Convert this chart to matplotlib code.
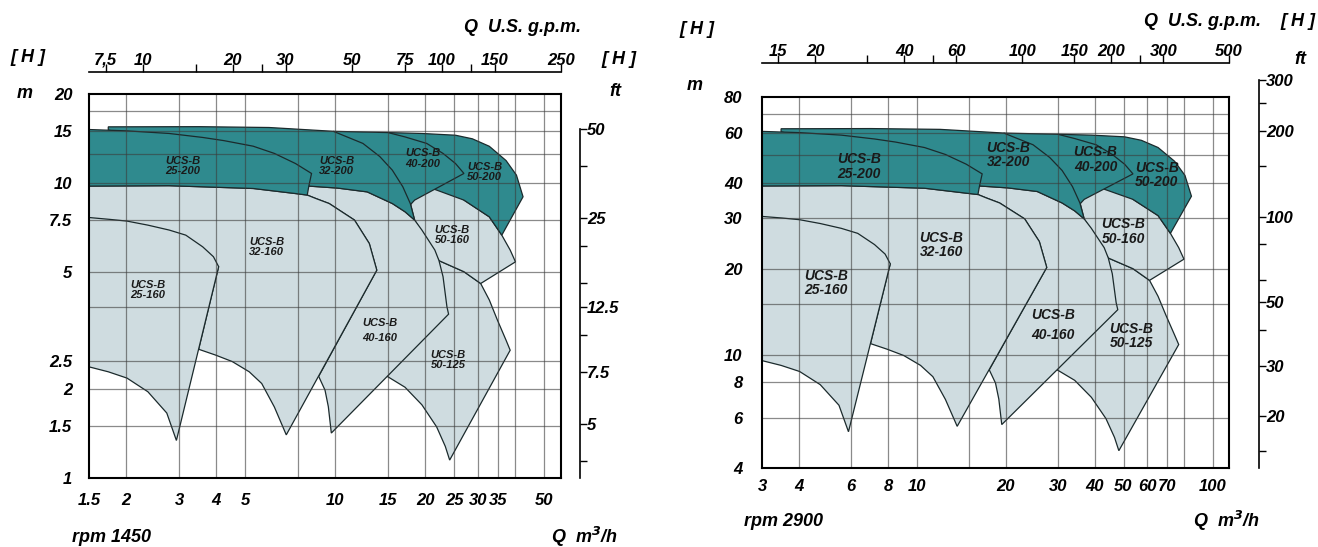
import numpy as np
import matplotlib
matplotlib.use("Agg")
import matplotlib.pyplot as plt
from matplotlib.ticker import NullLocator

plt.rcParams['font.family'] = ['Liberation Sans', 'DejaVu Sans']
plt.rcParams['font.weight'] = 'bold'
plt.rcParams['font.style'] = 'italic'

W, H = 1318, 547
GPM = 4.403   # US gpm per m3/h
FT = 3.2808   # ft per m

TEAL = '#2f8a8e'
PALE = '#cfdce0'
EDGE = '#1b2a2c'

# ---------------- rpm 1450 : (Q m3/h, H m) outlines ----------------
L_25_160 = [(1.5, 7.63), (1.76, 7.52), (2.01, 7.42), (2.36, 7.19), (2.78, 6.92), (3.16, 6.65),
            (3.6, 6.07), (3.91, 5.62), (4.07, 5.2), (2.94, 1.34), (2.73, 1.66), (2.36, 1.96),
            (2.01, 2.18), (1.74, 2.29), (1.5, 2.38)]
L_32_160 = [(1.5, 9.75), (2.78, 9.78), (5.31, 9.57), (7.35, 9.2), (8.05, 9.09), (8.6, 8.85),
            (9.53, 8.51), (11.58, 7.48), (12.98, 6.23), (13.75, 5.06), (6.85, 1.4), (6.25, 1.74),
            (5.67, 2.09), (5.15, 2.29), (4.52, 2.48), (3.97, 2.61), (3.49, 2.73), (4.07, 5.2),
            (1.5, 7.63)]
L_40_160 = [(7.5, 10.5), (8.15, 9.75), (10.17, 9.6), (12.77, 9.32), (15.5, 8.51), (17.09, 7.98),
            (18.4, 7.48), (19.46, 6.92), (21.5, 5.92), (22.2, 5.45), (22.9, 4.81), (23.6, 3.8),
            (23.9, 3.59), (9.69, 1.42), (9.47, 1.744), (9.23, 1.985), (8.79, 2.21), (13.75, 5.06),
            (12.98, 6.23), (11.58, 7.48), (9.53, 8.51), (8.6, 8.85), (8.05, 9.09), (7.8, 9.6)]
L_50_125 = [(22.2, 5.45), (26.9, 5.0), (30.6, 4.56), (32.7, 4.01), (34.8, 3.43), (37.2, 2.93),
            (38.4, 2.71), (24.1, 1.15), (23.3, 1.28), (21.8, 1.49), (19.46, 1.77), (17.09, 2.03),
            (14.9, 2.21)]
L_50_160 = [(18.4, 7.48), (17.85, 8.45), (18.6, 10.0), (24.0, 9.8), (26.9, 8.74), (32.7, 7.67),
            (36.0, 6.65), (38.4, 5.92), (40.0, 5.4), (30.6, 4.56), (26.9, 5.0), (22.2, 5.45)]
L_50_200 = [(15.0, 14.8), (19.46, 14.7), (25.2, 14.5), (28.7, 14.1), (32.7, 13.3), (37.2, 11.9),
            (40.3, 10.62), (42.4, 8.97), (36.0, 6.65), (32.7, 7.67), (26.9, 8.74), (21.5, 9.5),
            (19.0, 11.5)]
L_40_200 = [(9.84, 14.95), (15.0, 14.8), (17.09, 14.31), (20.2, 13.6), (22.9, 12.58), (25.2, 11.63),
            (26.9, 10.76), (18.4, 8.74), (17.85, 8.45), (14.0, 9.5)]
L_32_200 = [(1.74, 15.1), (1.74, 15.48), (3.5, 15.5), (6.0, 15.4), (9.84, 14.95), (12.36, 13.6),
            (14.07, 12.28), (15.5, 11.04), (16.8, 9.7), (17.8, 8.51), (18.4, 7.48), (17.09, 7.98),
            (15.5, 8.51), (12.77, 9.32), (10.17, 9.6), (8.15, 9.75), (8.0, 10.3)]
L_25_200 = [(1.5, 15.16), (2.01, 15.0), (2.78, 14.7), (3.6, 14.25), (4.24, 13.9), (5.31, 13.31),
            (6.25, 12.58), (7.35, 11.63), (8.32, 10.76), (8.15, 9.75), (8.05, 9.09), (7.35, 9.2),
            (5.31, 9.57), (2.78, 9.78), (1.5, 9.75)]
L_labels = [('25-200', 3.08, 11.4), ('32-200', 10.1, 11.4), ('40-200', 19.6, 12.1),
            ('50-200', 31.6, 10.9), ('50-160', 24.6, 6.65), ('32-160', 5.9, 6.07),
            ('25-160', 2.36, 4.33), ('40-160', 14.1, 3.17), ('50-125', 23.8, 2.51)]

# ---------------- rpm 2900 : (Q m3/h, H m) outlines ----------------
R_25_160 = [(3.0, 30.5), (3.52, 30.1), (4.02, 29.7), (4.72, 28.8), (5.56, 27.7), (6.32, 26.6),
            (7.2, 24.3), (7.82, 22.5), (8.14, 20.8), (5.88, 5.36), (5.46, 6.64), (4.72, 7.84),
            (4.02, 8.72), (3.48, 9.16), (3.0, 9.52)]
R_32_160 = [(3.0, 39.0), (5.56, 39.1), (10.62, 38.3), (14.7, 36.8), (16.1, 36.4), (17.2, 35.4),
            (19.06, 34.0), (23.16, 29.9), (25.96, 24.9), (27.5, 20.2), (13.7, 5.6), (12.5, 6.96),
            (11.34, 8.36), (10.3, 9.16), (9.04, 9.92), (7.94, 10.44), (6.98, 10.92), (8.14, 20.8),
            (3.0, 30.5)]
R_40_160 = [(15.0, 42.0), (16.3, 39.0), (20.34, 38.4), (25.54, 37.3), (31.0, 34.0), (34.18, 31.9),
            (36.8, 29.9), (38.92, 27.7), (43.0, 23.7), (44.4, 21.8), (45.8, 19.2), (47.2, 15.2),
            (47.8, 14.36), (19.38, 5.68), (18.94, 6.98), (18.46, 7.94), (17.58, 8.84), (27.5, 20.2),
            (25.96, 24.9), (23.16, 29.9), (19.06, 34.0), (17.2, 35.4), (16.1, 36.4), (15.6, 38.4)]
R_50_125 = [(44.4, 21.8), (53.8, 20.0), (61.2, 18.2), (65.4, 16.0), (69.6, 13.7), (74.4, 11.7),
            (76.8, 10.84), (48.2, 4.6), (46.6, 5.12), (43.6, 5.96), (38.92, 7.08), (34.18, 8.12),
            (29.8, 8.84)]
R_50_160 = [(36.8, 29.9), (35.7, 33.8), (37.2, 40.0), (48.0, 39.2), (53.8, 35.0), (65.4, 30.7),
            (72.0, 26.6), (76.8, 23.7), (80.0, 21.6), (61.2, 18.2), (53.8, 20.0), (44.4, 21.8)]
R_50_200 = [(30.0, 59.2), (38.92, 58.8), (50.4, 58.0), (57.4, 56.4), (65.4, 53.2), (74.4, 47.6),
            (80.6, 42.5), (84.8, 35.9), (72.0, 26.6), (65.4, 30.7), (53.8, 35.0), (43.0, 38.0),
            (38.0, 46.0)]
R_40_200 = [(19.68, 59.8), (30.0, 59.2), (34.18, 57.2), (40.4, 54.4), (45.8, 50.3), (50.4, 46.5),
            (53.8, 43.0), (36.8, 35.0), (35.7, 33.8), (28.0, 38.0)]
R_32_200 = [(3.48, 60.4), (3.48, 61.9), (7.0, 62.0), (12.0, 61.6), (19.68, 59.8), (24.72, 54.4),
            (28.14, 49.1), (31.0, 44.2), (33.6, 38.8), (35.6, 34.0), (36.8, 29.9), (34.18, 31.9),
            (31.0, 34.0), (25.54, 37.3), (20.34, 38.4), (16.3, 39.0), (16.0, 41.2)]
R_25_200 = [(3.0, 60.6), (4.02, 60.0), (5.56, 58.8), (7.2, 57.0), (8.48, 55.6), (10.62, 53.2),
            (12.5, 50.3), (14.7, 46.5), (16.64, 43.0), (16.3, 39.0), (16.1, 36.4), (14.7, 36.8),
            (10.62, 38.3), (5.56, 39.1), (3.0, 39.0)]
R_labels = [('25-200', 6.4, 45.6), ('32-200', 20.4, 50.1), ('40-200', 40.2, 48.2),
            ('50-200', 64.8, 42.6), ('50-160', 50.0, 27.0), ('32-160', 12.1, 24.2),
            ('25-160', 4.93, 17.8), ('40-160', 28.8, 12.7), ('50-125', 53.0, 11.6)]

# ---------------- axes ticks ----------------
L_q_ticks = [1.5, 2, 3, 4, 5, 10, 15, 20, 25, 30, 35, 50]
L_h_ticks = [1, 1.5, 2, 2.5, 5, 7.5, 10, 15, 20]
L_q_grid = [2, 3, 4, 5, 7.5, 10, 15, 20, 25, 30, 35, 40, 50]
L_h_grid = [1.5, 2, 2.5, 3.81, 5, 7.5, 10, 12.5, 15, 17.5]
L_gpm_ticks = [7.5, 10, 15, 20, 25, 30, 50, 75, 100, 125, 150, 250]
L_gpm_labels = ['7,5', '10', '', '20', '', '30', '50', '75', '100', '', '150', '250']
L_ft_ticks = [3.75, 5, 7.5, 10, 12.5, 15, 20, 25, 37.5, 50]
L_ft_labels = ['', '5', '7.5', '', '12.5', '', '', '25', '', '50']

R_q_ticks = [3, 4, 6, 8, 10, 20, 30, 40, 50, 60, 70, 100]
R_h_ticks = [4, 6, 8, 10, 20, 30, 40, 60, 80]
R_q_grid = [4, 6, 8, 10, 15, 20, 30, 40, 50, 60, 70, 80, 100]
R_h_grid = [6, 8, 10, 15, 20, 30, 40, 50, 60, 70]
R_gpm_ticks = [15, 20, 30, 40, 50, 60, 100, 150, 200, 250, 300, 500]
R_gpm_labels = ['15', '20', '', '40', '', '60', '100', '150', '200', '', '300', '500']
R_ft_ticks = [15, 20, 30, 40, 50, 60, 80, 100, 150, 200, 250, 300]
R_ft_labels = ['', '20', '30', '', '50', '', '', '100', '', '200', '', '300']

TICK_SIZE = 12


def fig_axes(fig, x0, y0, x1, y1):
    return fig.add_axes([x0 / W, 1 - y1 / H, (x1 - x0) / W, (y1 - y0) / H])


def fig_text(fig, x, y, s, size=13):
    fig.text(x / W, 1 - y / H, s, ha='center', va='center', fontsize=size)


def draw_chart(fig, box, qlim, hlim, q_ticks, h_ticks, q_grid, h_grid, pale, teal, labels,
               label_size, pads, gpm_y, gpm_ticks, gpm_labels, ft_x, ft_top_px, ft_top,
               ft_ticks, ft_labels):
    x0, y0, x1, y1 = box
    ax = fig_axes(fig, x0, y0, x1, y1)
    ax.set_xscale('log')
    ax.set_yscale('log')
    ax.set_xlim(qlim)
    ax.set_ylim(hlim)

    for pts in pale:
        q, h = zip(*pts)
        ax.fill(q, h, facecolor=PALE, edgecolor=EDGE, lw=0.9, zorder=2)
    for pts in teal:
        q, h = zip(*pts)
        ax.fill(q, h, facecolor=TEAL, edgecolor=EDGE, lw=0.9, zorder=2)

    for v in q_grid:
        ax.axvline(v, color='#3c3c3c', lw=0.9, alpha=0.6, zorder=3)
    for v in h_grid:
        ax.axhline(v, color='#3c3c3c', lw=0.9, alpha=0.6, zorder=3)

    for name, q, h in labels:
        ax.text(q, h, 'UCS-B\n' + name, ha='center', va='center', fontsize=label_size,
                color='#1a1a1a', zorder=5, linespacing=1.6 if name == '40-160' else 1.05)

    ax.set_xticks(q_ticks, labels=[f'{v:g}' for v in q_ticks])
    ax.set_yticks(h_ticks, labels=[f'{v:g}' for v in h_ticks])
    ax.xaxis.set_minor_locator(NullLocator())
    ax.yaxis.set_minor_locator(NullLocator())
    ax.tick_params(axis='x', length=0, pad=pads[0], labelsize=TICK_SIZE)
    ax.tick_params(axis='y', length=0, pad=pads[1], labelsize=TICK_SIZE)
    for s in ax.spines.values():
        s.set_linewidth(1.5)
        s.set_zorder(6)

    # top U.S. gpm scale
    axg = fig.add_axes([x0 / W, 1 - gpm_y / H, (x1 - x0) / W, 1e-4])
    axg.set_xscale('log')
    axg.set_xlim(qlim[0] * GPM, qlim[1] * GPM)
    axg.set_yticks([])
    axg.patch.set_visible(False)
    for k in ['left', 'right', 'bottom']:
        axg.spines[k].set_visible(False)
    axg.spines['top'].set_linewidth(1.2)
    axg.xaxis.set_ticks_position('top')
    axg.set_xticks(gpm_ticks, labels=gpm_labels)
    axg.xaxis.set_minor_locator(NullLocator())
    axg.tick_params(axis='x', direction='out', length=6, width=1, pad=-3, labelsize=TICK_SIZE)

    # right ft scale
    k = (y1 - y0) / np.log10(hlim[1] / hlim[0])
    top_m = hlim[0] * 10 ** ((y1 - ft_top_px) / k)
    axf = fig.add_axes([ft_x / W - 1e-4, 1 - y1 / H, 1e-4, (y1 - ft_top_px) / H])
    axf.set_yscale('log')
    axf.set_ylim(hlim[0] * FT, top_m * FT)
    axf.set_xticks([])
    axf.patch.set_visible(False)
    for s in ['left', 'top', 'bottom']:
        axf.spines[s].set_visible(False)
    axf.spines['right'].set_bounds(hlim[0] * FT, ft_top)
    axf.spines['right'].set_linewidth(1.2)
    axf.yaxis.set_ticks_position('right')
    axf.set_yticks(ft_ticks, labels=ft_labels)
    axf.yaxis.set_minor_locator(NullLocator())
    axf.tick_params(axis='y', direction='out', length=5, width=1, pad=0, labelsize=TICK_SIZE)
    return ax


fig = plt.figure(figsize=(W / 100, H / 100), dpi=100)
fig.patch.set_facecolor('white')

draw_chart(fig, (89, 94, 561, 478), (1.5, 250 / GPM + 0.01), (1, 20),
           L_q_ticks, L_h_ticks, L_q_grid, L_h_grid,
           [L_50_125, L_50_160, L_40_160, L_32_160, L_25_160],
           [L_50_200, L_40_200, L_32_200, L_25_200], L_labels, 8, (11, 12),
           72, L_gpm_ticks, L_gpm_labels, 580, 94, 50, L_ft_ticks, L_ft_labels)

draw_chart(fig, (762, 97, 1229, 468), (3, 500 / GPM + 0.02), (4, 80),
           R_q_ticks, R_h_ticks, R_q_grid, R_h_grid,
           [R_50_125, R_50_160, R_40_160, R_32_160, R_25_160],
           [R_50_200, R_40_200, R_32_200, R_25_200], R_labels, 10, (8, 14),
           63, R_gpm_ticks, R_gpm_labels, 1259, 70, 300, R_ft_ticks, R_ft_labels)

# left chart captions
fig_text(fig, 28, 57, '[ H ]')
fig_text(fig, 25, 94, 'm')
fig_text(fig, 523, 27, 'Q  U.S. g.p.m.')
fig_text(fig, 619, 59, '[ H ]')
fig_text(fig, 615, 92, 'ft')
fig_text(fig, 111, 538, 'rpm 1450')
fig_text(fig, 584, 537, 'Q  m$^3$/h')

# right chart captions
fig_text(fig, 697, 30, '[ H ]')
fig_text(fig, 695, 86, 'm')
fig_text(fig, 1202, 22, 'Q  U.S. g.p.m.')
fig_text(fig, 1298, 22, '[ H ]')
fig_text(fig, 1300, 60, 'ft')
fig_text(fig, 783, 521, 'rpm 2900')
fig_text(fig, 1226, 521, 'Q  m$^3$/h')

fig.savefig('out.png', dpi=100, facecolor='white')
